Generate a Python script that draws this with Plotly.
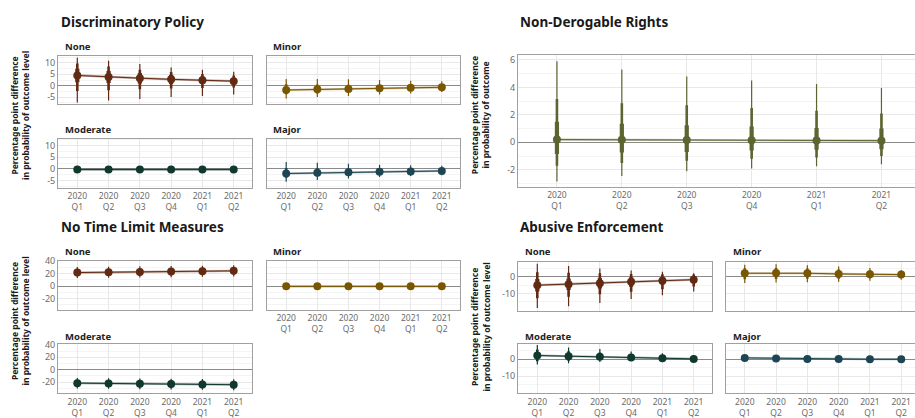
import plotly.graph_objects as go

W, H = 915, 418

QUARTERS = ['2020<br>Q1', '2020<br>Q2', '2020<br>Q3', '2020<br>Q4', '2021<br>Q1', '2021<br>Q2']

# ---- Discriminatory Policy ----
disc_none_est = [4.5, 3.8, 3.3, 2.8, 2.4, 2.0]
disc_none_lo99 = [-7.4, -6.5, -5.8, -5.0, -4.5, -3.9]
disc_none_hi99 = [12.3, 11.0, 9.5, 8.0, 7.0, 6.1]
disc_none_lo80 = [-2.3, -2.0, -1.6, -1.2, -1.0, -0.8]
disc_none_hi80 = [9.8, 8.5, 7.0, 6.0, 5.2, 4.5]
disc_none_lo50 = [1.5, 1.2, 1.0, 0.8, 0.7, 0.6]
disc_none_hi50 = [7.5, 6.5, 5.6, 4.8, 4.0, 3.4]

disc_minor_est = [-1.9, -1.6, -1.4, -1.1, -0.9, -0.7]
disc_minor_lo99 = [-5.6, -5.0, -4.5, -3.9, -3.4, -2.8]
disc_minor_hi99 = [3.0, 3.0, 2.8, 2.5, 2.2, 2.0]
disc_minor_lo80 = [-3.8, -3.4, -3.0, -2.5, -2.2, -1.8]
disc_minor_hi80 = [0.6, 0.5, 0.4, 0.3, 0.3, 0.3]
disc_minor_lo50 = [-2.8, -2.4, -2.2, -1.8, -1.5, -1.2]
disc_minor_hi50 = [-0.9, -0.7, -0.6, -0.4, -0.3, -0.2]

disc_mod_est = [-0.3, -0.3, -0.3, -0.3, -0.3, -0.3]
disc_mod_lo99 = [-0.8, -0.8, -0.7, -0.7, -0.7, -0.7]
disc_mod_hi99 = [0.2, 0.2, 0.2, 0.1, 0.1, 0.1]
disc_mod_lo80 = [-0.6, -0.6, -0.5, -0.5, -0.5, -0.5]
disc_mod_hi80 = [0.0, 0.0, 0.0, 0.0, 0.0, 0.0]
disc_mod_lo50 = [-0.4, -0.4, -0.4, -0.4, -0.4, -0.4]
disc_mod_hi50 = [-0.2, -0.2, -0.2, -0.2, -0.2, -0.2]

disc_major_est = [-2.0, -1.7, -1.4, -1.2, -1.1, -0.9]
disc_major_lo99 = [-5.6, -4.8, -4.1, -3.5, -3.1, -2.7]
disc_major_hi99 = [3.0, 2.6, 2.2, 1.8, 1.6, 1.4]
disc_major_lo80 = [-3.8, -3.2, -2.8, -2.4, -2.2, -1.9]
disc_major_hi80 = [0.4, 0.3, 0.3, 0.2, 0.2, 0.2]
disc_major_lo50 = [-2.8, -2.4, -2.0, -1.8, -1.6, -1.4]
disc_major_hi50 = [-1.0, -0.9, -0.7, -0.6, -0.5, -0.4]

# ---- Non-Derogable Rights ----
nonder_est = [0.20, 0.18, 0.17, 0.15, 0.13, 0.12]
nonder_lo99 = [-2.85, -2.45, -2.10, -1.90, -1.75, -1.60]
nonder_hi99 = [5.90, 5.30, 4.80, 4.50, 4.25, 3.95]
nonder_lo80 = [-1.70, -1.50, -1.35, -1.20, -1.10, -1.00]
nonder_hi80 = [3.15, 2.85, 2.70, 2.50, 2.30, 2.10]
nonder_lo50 = [-0.85, -0.75, -0.70, -0.60, -0.55, -0.50]
nonder_hi50 = [1.50, 1.35, 1.25, 1.15, 1.05, 1.00]

# ---- No Time Limit Measures ----
ntl_none_est = [21.9, 22.4, 22.9, 23.4, 24.0, 24.6]
ntl_none_lo99 = [13.0, 13.6, 14.1, 14.5, 15.0, 15.6]
ntl_none_hi99 = [31.0, 31.4, 31.9, 32.4, 33.0, 33.6]
ntl_none_lo80 = [16.2, 16.7, 17.2, 17.6, 18.2, 18.8]
ntl_none_hi80 = [27.8, 28.2, 28.7, 29.2, 29.8, 30.4]
ntl_none_lo50 = [19.0, 19.5, 20.0, 20.5, 21.1, 21.7]
ntl_none_hi50 = [24.9, 25.3, 25.8, 26.3, 26.9, 27.5]

ntl_minor_est = [-0.2, -0.2, -0.2, -0.2, -0.2, -0.2]
ntl_minor_lo99 = [-1.2, -1.2, -1.2, -1.1, -1.1, -1.1]
ntl_minor_hi99 = [0.8, 0.8, 0.8, 0.7, 0.7, 0.7]
ntl_minor_lo80 = [-0.8, -0.8, -0.8, -0.7, -0.7, -0.7]
ntl_minor_hi80 = [0.4, 0.4, 0.4, 0.3, 0.3, 0.3]
ntl_minor_lo50 = [-0.5, -0.5, -0.5, -0.5, -0.5, -0.5]
ntl_minor_hi50 = [0.1, 0.1, 0.1, 0.1, 0.1, 0.1]

ntl_mod_est = [-21.5, -22.0, -22.6, -23.0, -23.5, -24.0]
ntl_mod_lo99 = [-30.0, -30.6, -31.2, -31.6, -32.2, -32.8]
ntl_mod_hi99 = [-13.2, -13.6, -14.0, -14.4, -14.9, -15.3]
ntl_mod_lo80 = [-27.2, -27.7, -28.3, -28.7, -29.2, -29.8]
ntl_mod_hi80 = [-16.0, -16.4, -16.9, -17.3, -17.8, -18.2]
ntl_mod_lo50 = [-24.4, -24.9, -25.5, -25.9, -26.4, -26.9]
ntl_mod_hi50 = [-18.7, -19.1, -19.7, -20.1, -20.6, -21.1]

# ---- Abusive Enforcement ----
abu_none_est = [-5.1, -4.5, -3.9, -3.1, -2.4, -1.8]
abu_none_lo99 = [-18.6, -17.6, -15.6, -13.3, -11.0, -8.8]
abu_none_hi99 = [7.6, 6.3, 4.9, 3.7, 2.9, 2.0]
abu_none_lo80 = [-12.8, -12.0, -10.5, -9.0, -7.5, -5.8]
abu_none_hi80 = [2.6, 2.3, 2.0, 1.6, 1.4, 1.2]
abu_none_lo50 = [-8.8, -8.0, -7.0, -6.0, -4.7, -3.6]
abu_none_hi50 = [-1.4, -1.1, -0.8, -0.4, -0.2, 0.0]

abu_minor_est = [2.0, 2.1, 2.0, 1.6, 1.4, 1.2]
abu_minor_lo99 = [-3.8, -3.5, -3.3, -3.0, -2.5, -1.8]
abu_minor_hi99 = [7.0, 7.4, 6.8, 6.0, 5.2, 4.0]
abu_minor_lo80 = [-1.6, -1.4, -1.3, -1.2, -1.0, -0.6]
abu_minor_hi80 = [5.0, 5.2, 4.8, 4.2, 3.6, 2.9]
abu_minor_lo50 = [0.2, 0.3, 0.3, 0.1, 0.1, 0.2]
abu_minor_hi50 = [3.6, 3.8, 3.5, 3.0, 2.6, 2.1]

abu_mod_est = [2.2, 1.8, 1.4, 1.0, 0.6, 0.2]
abu_mod_lo99 = [-3.2, -2.4, -1.6, -1.0, -0.6, -0.3]
abu_mod_hi99 = [8.4, 7.0, 6.0, 4.6, 3.6, 2.4]
abu_mod_lo80 = [-1.2, -0.9, -0.5, -0.3, -0.2, -0.1]
abu_mod_hi80 = [5.8, 4.8, 4.0, 3.0, 2.2, 1.2]
abu_mod_lo50 = [0.4, 0.3, 0.3, 0.2, 0.1, 0.0]
abu_mod_hi50 = [4.0, 3.3, 2.6, 2.0, 1.3, 0.6]

abu_major_est = [0.8, 0.5, 0.2, 0.1, 0.0, 0.0]
abu_major_lo99 = [-0.8, -0.6, -0.4, -0.3, -0.2, -0.2]
abu_major_hi99 = [2.6, 1.8, 1.0, 0.6, 0.4, 0.3]
abu_major_lo80 = [-0.2, -0.2, -0.1, -0.1, -0.1, -0.1]
abu_major_hi80 = [1.8, 1.2, 0.6, 0.4, 0.2, 0.2]
abu_major_lo50 = [0.3, 0.2, 0.0, 0.0, -0.1, -0.1]
abu_major_hi50 = [1.3, 0.9, 0.4, 0.3, 0.1, 0.1]

# y tick values / labels per measure
disc_ticks = [-5, 0, 5, 10]
disc_ticklabels = ['-5', '0', '5', '10']
nonder_ticks = [-2, 0, 2, 4, 6]
nonder_ticklabels = ['-2', '0', '2', '4', '6']
ntl_ticks = [-20, 0, 20, 40]
ntl_ticklabels = ['-20', '0', '20', '40']
abu_ticks = [-10, 0]
abu_ticklabels = ['-10', '0']

CORES = {
    'None': '#622a13',
    'Minor': '#7a5600',
    'Moderate': '#11382e',
    'Major': '#1d4652',
    'NonDerog': '#5a6530',
}

FONT = 'Noto Sans'
GRID = '#e8e8e8'
MINOR_GRID = '#f4f4f4'
BORDA = '#a0a0a0'


def rgba(hexcor, a):
    h = hexcor.lstrip('#')
    return f'rgba({int(h[0:2], 16)},{int(h[2:4], 16)},{int(h[4:6], 16)},{a})'


def fx(px):
    return px / W


def fy(py):
    return 1 - py / H


RX = [-0.617, 5.585]
PAINEIS = [
    dict(d=(disc_none_est, disc_none_lo99, disc_none_hi99, disc_none_lo80, disc_none_hi80, disc_none_lo50, disc_none_hi50),
         cor='None', box=(58, 51, 252, 100), ry=[-8.2, 13.0], t=(disc_ticks, disc_ticklabels), md=2.5, xl=False, yl=True, rb=True, rx=RX),
    dict(d=(disc_minor_est, disc_minor_lo99, disc_minor_hi99, disc_minor_lo80, disc_minor_hi80, disc_minor_lo50, disc_minor_hi50),
         cor='Minor', box=(267, 51, 460, 100), ry=[-8.2, 13.0], t=(disc_ticks, disc_ticklabels), md=2.5, xl=False, yl=False, rb=True, rx=RX),
    dict(d=(disc_mod_est, disc_mod_lo99, disc_mod_hi99, disc_mod_lo80, disc_mod_hi80, disc_mod_lo50, disc_mod_hi50),
         cor='Moderate', box=(58, 135, 252, 185), ry=[-8.2, 13.0], t=(disc_ticks, disc_ticklabels), md=2.5, xl=True, yl=True, rb=True, rx=RX),
    dict(d=(disc_major_est, disc_major_lo99, disc_major_hi99, disc_major_lo80, disc_major_hi80, disc_major_lo50, disc_major_hi50),
         cor='Major', box=(267, 135, 460, 185), ry=[-8.2, 13.0], t=(disc_ticks, disc_ticklabels), md=2.5, xl=True, yl=False, rb=True, rx=RX),
    dict(d=(nonder_est, nonder_lo99, nonder_hi99, nonder_lo80, nonder_hi80, nonder_lo50, nonder_hi50),
         cor='NonDerog', box=(518, 50, 915, 184), ry=[-3.25, 6.35], t=(nonder_ticks, nonder_ticklabels), md=1, xl=True, yl=True, rb=False, rx=[-0.6, 5.517]),
    dict(d=(ntl_none_est, ntl_none_lo99, ntl_none_hi99, ntl_none_lo80, ntl_none_hi80, ntl_none_lo50, ntl_none_hi50),
         cor='None', box=(58, 259, 252, 309), ry=[-38, 41], t=(ntl_ticks, ntl_ticklabels), md=10, xl=False, yl=True, rb=True, rx=RX),
    dict(d=(ntl_minor_est, ntl_minor_lo99, ntl_minor_hi99, ntl_minor_lo80, ntl_minor_hi80, ntl_minor_lo50, ntl_minor_hi50),
         cor='Minor', box=(267, 259, 460, 309), ry=[-38, 41], t=(ntl_ticks, ntl_ticklabels), md=10, xl=True, yl=False, rb=True, rx=RX),
    dict(d=(ntl_mod_est, ntl_mod_lo99, ntl_mod_hi99, ntl_mod_lo80, ntl_mod_hi80, ntl_mod_lo50, ntl_mod_hi50),
         cor='Moderate', box=(58, 344, 252, 394), ry=[-38, 41], t=(ntl_ticks, ntl_ticklabels), md=10, xl=True, yl=True, rb=True, rx=RX),
    dict(d=(abu_none_est, abu_none_lo99, abu_none_hi99, abu_none_lo80, abu_none_hi80, abu_none_lo50, abu_none_hi50),
         cor='None', box=(518, 260, 712, 310), ry=[-20.3, 8.9], t=(abu_ticks, abu_ticklabels), md=5, xl=False, yl=True, rb=True, rx=RX),
    dict(d=(abu_minor_est, abu_minor_lo99, abu_minor_hi99, abu_minor_lo80, abu_minor_hi80, abu_minor_lo50, abu_minor_hi50),
         cor='Minor', box=(726, 260, 915, 310), ry=[-20.3, 8.9], t=(abu_ticks, abu_ticklabels), md=5, xl=False, yl=False, rb=False, rx=[-0.6, 5.44]),
    dict(d=(abu_mod_est, abu_mod_lo99, abu_mod_hi99, abu_mod_lo80, abu_mod_hi80, abu_mod_lo50, abu_mod_hi50),
         cor='Moderate', box=(518, 344, 712, 394), ry=[-20.3, 8.9], t=(abu_ticks, abu_ticklabels), md=5, xl=True, yl=True, rb=True, rx=RX),
    dict(d=(abu_major_est, abu_major_lo99, abu_major_hi99, abu_major_lo80, abu_major_hi80, abu_major_lo50, abu_major_hi50),
         cor='Major', box=(726, 344, 915, 394), ry=[-20.3, 8.9], t=(abu_ticks, abu_ticklabels), md=5, xl=True, yl=False, rb=False, rx=[-0.6, 5.44]),
]


def segmentos(lo, hi):
    xs, ys = [], []
    for q, a, b in zip(QUARTERS, lo, hi):
        xs += [q, q, None]
        ys += [a, b, None]
    return xs, ys


fig = go.Figure()
layout = {}

for i, p in enumerate(PAINEIS, start=1):
    sx = '' if i == 1 else str(i)
    xa, ya = 'x' + sx, 'y' + sx
    cor = CORES[p['cor']]
    est, lo99, hi99, lo80, hi80, lo50, hi50 = p['d']

    # linha ligando as estimativas
    fig.add_trace(go.Scatter(x=QUARTERS, y=est, mode='lines', xaxis=xa, yaxis=ya,
                             line=dict(color=rgba(cor, 0.4), width=2.2), hoverinfo='skip', showlegend=False))
    fig.add_trace(go.Scatter(x=QUARTERS, y=est, mode='lines', xaxis=xa, yaxis=ya,
                             line=dict(color=cor, width=1), hoverinfo='skip', showlegend=False))
    # intervalos
    for lo, hi, w in [(lo99, hi99, 1.2), (lo80, hi80, 2.6), (lo50, hi50, 4.2)]:
        sx_, sy_ = segmentos(lo, hi)
        fig.add_trace(go.Scatter(x=sx_, y=sy_, mode='lines', xaxis=xa, yaxis=ya,
                                 line=dict(color=cor, width=w), hoverinfo='skip', showlegend=False))
    fig.add_trace(go.Scatter(x=QUARTERS, y=est, mode='markers', xaxis=xa, yaxis=ya,
                             marker=dict(color=cor, size=8), showlegend=False))

    l, t, r, b = p['box']
    layout['xaxis' + sx] = dict(
        domain=[fx(l), min(fx(r), 1)], anchor=ya, type='category', range=p['rx'],
        categoryorder='array', categoryarray=QUARTERS,
        showgrid=True, gridcolor=GRID, gridwidth=1,
        showline=True, linecolor=BORDA, linewidth=1, mirror=True,
        ticks='', showticklabels=p['xl'],
        tickfont=dict(family=FONT, size=8.5, color='#6b6b6b'),
        zeroline=False, fixedrange=True,
    )
    layout['yaxis' + sx] = dict(
        domain=[fy(b), fy(t)], anchor=xa, range=p['ry'],
        tickmode='array', tickvals=p['t'][0], ticktext=p['t'][1],
        showgrid=True, gridcolor=GRID, gridwidth=1,
        minor=dict(tickmode='linear', tick0=0, dtick=p['md'], showgrid=True, gridcolor=MINOR_GRID, ticks=''),
        zeroline=True, zerolinecolor='#8a8a8a', zerolinewidth=1.3,
        showline=True, linecolor=BORDA, linewidth=1, mirror=p['rb'],
        ticks='', showticklabels=p['yl'],
        tickfont=dict(family=FONT, size=9, color='#6b6b6b'),
        fixedrange=True,
    )

anots = []
# titulos dos graficos
for txt, x, y in [('Discriminatory Policy', 59, 16), ('Non-Derogable Rights', 518, 16),
                  ('No Time Limit Measures', 59, 225), ('Abusive Enforcement', 518, 225)]:
    anots.append(dict(text=f'<b>{txt}</b>', x=fx(x), y=fy(y), xref='paper', yref='paper',
                      xanchor='left', yanchor='middle', showarrow=False,
                      font=dict(family=FONT, size=13.5, color='#1a1a1a')))
# rotulos das facetas
for txt, x, y in [('None', 63, 41), ('Minor', 271, 41), ('Moderate', 63, 126), ('Major', 271, 126),
                  ('None', 63, 250), ('Minor', 271, 250), ('Moderate', 63, 336),
                  ('None', 523, 250), ('Minor', 731, 250), ('Moderate', 523, 336), ('Major', 731, 336)]:
    anots.append(dict(text=f'<b>{txt}</b>', x=fx(x), y=fy(y), xref='paper', yref='paper',
                      xanchor='left', yanchor='middle', showarrow=False,
                      font=dict(family=FONT, size=9.5, color='#222222')))
# titulos dos eixos y
for txt, x, y in [('Percentage point difference<br>in probability of outcome level', 20, 112),
                  ('Percentage point difference<br>in probability of outcome', 480, 111),
                  ('Percentage point difference<br>in probability of outcome level', 20, 321),
                  ('Percentage point difference<br>in probability of outcome level', 480, 327)]:
    anots.append(dict(text=f'<b>{txt}</b>', x=fx(x), y=fy(y), xref='paper', yref='paper',
                      xanchor='center', yanchor='middle', showarrow=False, textangle=-90,
                      font=dict(family=FONT, size=8.5, color='#1a1a1a')))

fig.update_layout(
    width=W, height=H,
    margin=dict(l=0, r=0, t=0, b=0),
    paper_bgcolor='white', plot_bgcolor='white',
    showlegend=False,
    annotations=anots,
    **layout
)

# sem a margem padrao do body, a figura ocupa a janela inteira
fig.write_html('out.html', config={'displayModeBar': False},
               post_script="document.body.style.margin = '0';")
